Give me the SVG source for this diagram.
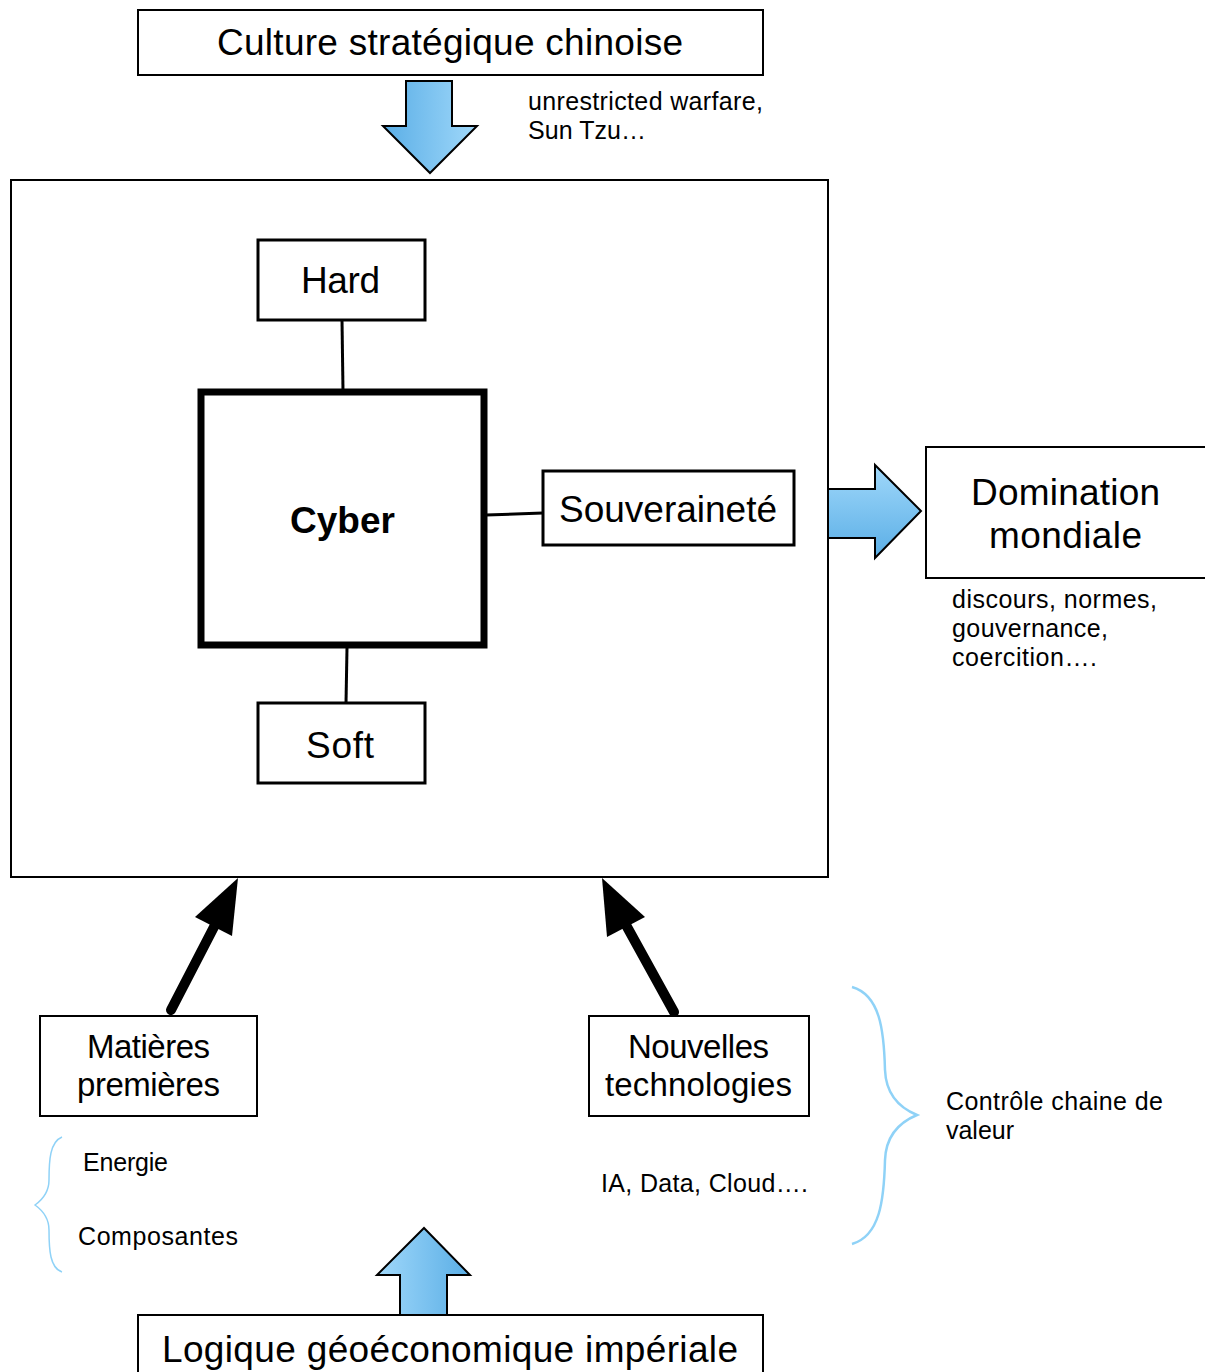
<svg xmlns="http://www.w3.org/2000/svg" width="1205" height="1372" viewBox="0 0 1205 1372">
<style>
.box{fill:#fff;stroke:#000;stroke-width:2}
.nb{fill:#fff;stroke:#000;stroke-width:3}
.t{font-family:"Liberation Sans",Arial,sans-serif;fill:#000}
.big{font-size:37px}
.mid{font-size:33px}
.sm{font-size:25px}
.brace{fill:none;stroke:#8fd2f7;stroke-width:2.5}
</style>
<defs>
<linearGradient id="gDown" x1="0" y1="0" x2="1" y2="0"><stop offset="0" stop-color="#5aaee6"/><stop offset="1" stop-color="#a0d8fa"/></linearGradient>
<linearGradient id="gRight" x1="0" y1="0" x2="0" y2="1"><stop offset="0" stop-color="#a0d8fa"/><stop offset="1" stop-color="#5aaee6"/></linearGradient>
<linearGradient id="gUp" x1="0" y1="0" x2="1" y2="0"><stop offset="0" stop-color="#a0d8fa"/><stop offset="1" stop-color="#5aaee6"/></linearGradient>
</defs>
<rect x="0" y="0" width="1205" height="1372" fill="#fff"/>

<g id="culture">
<rect class="box" x="138" y="10" width="625" height="65"/>
<text class="t big" x="217" y="55" textLength="466">Culture stratégique chinoise</text>
</g>
<text class="t sm" x="528" y="110" textLength="235">unrestricted warfare,</text>
<text class="t sm" x="528" y="139" textLength="118">Sun Tzu…</text>

<g id="container">
<rect class="box" x="11" y="180" width="817" height="697"/>
</g>

<g id="connectors">
<path d="M406,81 L452,81 L452,126 L477,126 L430,173 L383,126 L406,126 Z" fill="url(#gDown)" stroke="#000" stroke-width="2"/>
<path d="M828,489 L875,489 L875,465 L921,511 L875,558 L875,538 L828,538 Z" fill="url(#gRight)" stroke="#000" stroke-width="2"/>
<path d="M400,1315 L400,1275 L377,1275 L424,1228 L470,1275 L447,1275 L447,1315 Z" fill="url(#gUp)" stroke="#000" stroke-width="2"/>
<line x1="342" y1="320" x2="343" y2="391" stroke="#000" stroke-width="3"/>
<line x1="486" y1="515" x2="543" y2="513" stroke="#000" stroke-width="3"/>
<line x1="347" y1="648" x2="346" y2="703" stroke="#000" stroke-width="3"/>
<line x1="171" y1="1010" x2="215" y2="925" stroke="#000" stroke-width="10" stroke-linecap="round"/>
<path d="M238,878 L232,936 L195,917 Z" fill="#000"/>
<line x1="674" y1="1012" x2="626" y2="925" stroke="#000" stroke-width="10" stroke-linecap="round"/>
<path d="M602,878 L645,917 L607,937 Z" fill="#000"/>
<path class="brace" d="M852,987 C880,995 884,1030 885,1070 C886,1095 900,1108 917,1115 C900,1122 886,1135 885,1160 C884,1200 880,1236 852,1244"/>
<path class="brace" style="stroke-width:1.5" d="M62,1137 C50,1142 49,1160 49,1180 C49,1193 42,1200 35,1205 C42,1210 49,1217 49,1230 C49,1250 50,1268 62,1272"/>
</g>

<g id="hard">
<rect class="nb" x="258" y="240" width="167" height="80"/>
<text class="t big" x="301" y="293" textLength="79">Hard</text>
</g>
<g id="cyber">
<rect x="201" y="392" width="283" height="253" fill="#fff" stroke="#000" stroke-width="7"/>
<text class="t big" x="290" y="533" textLength="105" font-weight="bold">Cyber</text>
</g>
<g id="souverainete">
<rect class="nb" x="543" y="471" width="251" height="74"/>
<text class="t big" x="559" y="522" textLength="218">Souveraineté</text>
</g>
<g id="soft">
<rect class="nb" x="258" y="703" width="167" height="80"/>
<text class="t big" x="306" y="758" textLength="68">Soft</text>
</g>
<g id="domination">
<rect class="box" x="926" y="447" width="290" height="131"/>
<text class="t big" x="971" y="505" textLength="189">Domination</text>
<text class="t big" x="989" y="548" textLength="153">mondiale</text>
</g>
<text class="t sm" x="952" y="608" textLength="205">discours, normes,</text>
<text class="t sm" x="952" y="637" textLength="156">gouvernance,</text>
<text class="t sm" x="952" y="666" textLength="145">coercition….</text>

<g id="matieres">
<rect class="box" x="40" y="1016" width="217" height="100"/>
<text class="t mid" x="87" y="1058" textLength="123">Matières</text>
<text class="t mid" x="77" y="1096" textLength="143">premières</text>
</g>
<g id="nouvelles">
<rect class="box" x="589" y="1016" width="220" height="100"/>
<text class="t mid" x="628" y="1058" textLength="141">Nouvelles</text>
<text class="t mid" x="605" y="1096" textLength="187">technologies</text>
</g>
<text class="t sm" x="946" y="1110" textLength="217">Contrôle chaine de</text>
<text class="t sm" x="946" y="1139" textLength="68">valeur</text>
<text class="t sm" x="83" y="1171" textLength="85">Energie</text>
<text class="t sm" x="78" y="1245" textLength="160">Composantes</text>
<text class="t sm" x="601" y="1192" textLength="207">IA, Data, Cloud….</text>

<g id="logique">
<rect class="box" x="138" y="1315" width="625" height="70"/>
<text class="t big" x="162" y="1362" textLength="576">Logique géoéconomique impériale</text>
</g>
</svg>
